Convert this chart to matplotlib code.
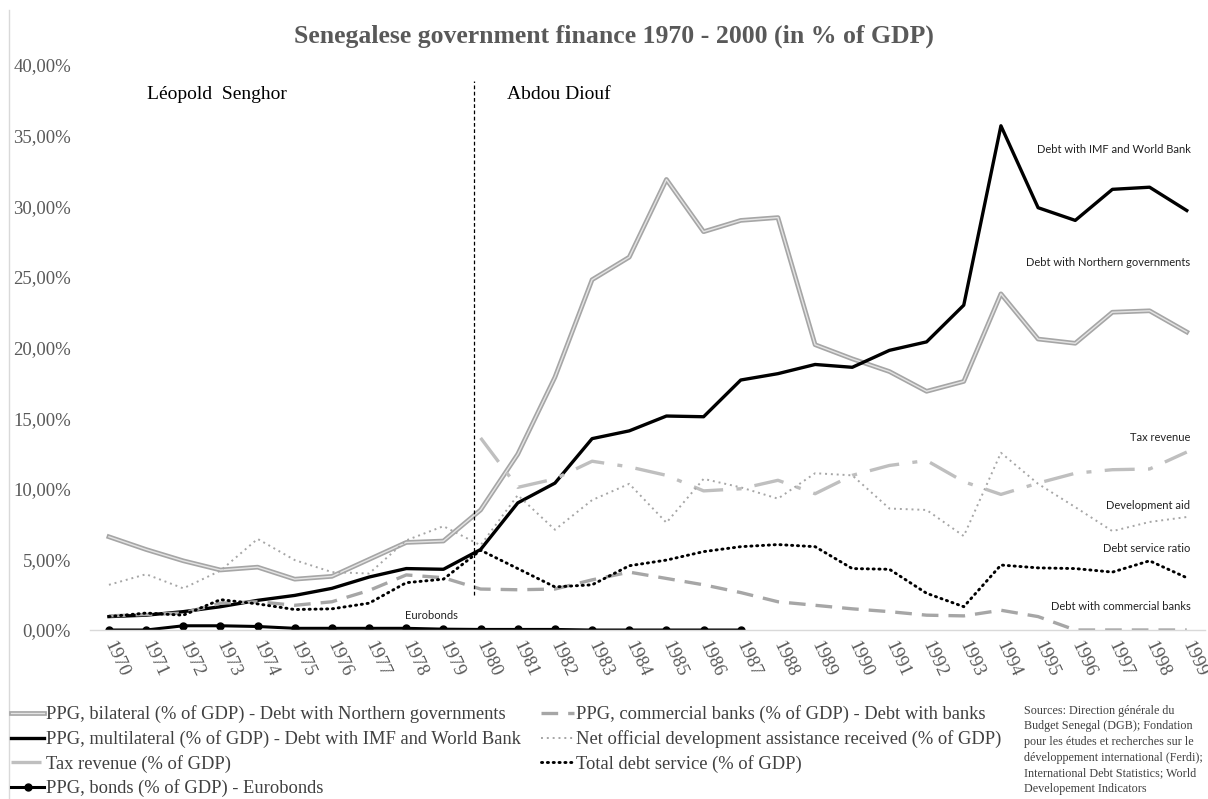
import numpy as np
import matplotlib
matplotlib.use("Agg")
import matplotlib.pyplot as plt
import matplotlib.patheffects as pe

years = list(range(1970, 2000))

# values in % of GDP
bilateral = [6.6, 5.7, 4.9, 4.25, 4.45, 3.6, 3.8, 5.0, 6.2, 6.3,
             8.5, 12.45, 17.9, 24.8, 26.4, 31.9, 28.2, 29.0, 29.2, 20.2,
             19.2, 18.3, 16.9, 17.6, 23.8, 20.6, 20.3, 22.5, 22.6, 21.1]
multilateral = [0.95, 1.05, 1.3, 1.65, 2.1, 2.45, 2.95, 3.75, 4.35, 4.3,
                5.7, 9.0, 10.4, 13.55, 14.1, 15.15, 15.1, 17.7, 18.15, 18.8,
                18.6, 19.8, 20.4, 23.0, 35.7, 29.9, 29.0, 31.2, 31.35, 29.7]
tax_revenue = [np.nan] * 10 + [13.6, 10.1, 10.7, 11.95, 11.55, 10.95, 9.85, 10.0, 10.6, 9.65,
                               10.95, 11.65, 12.0, 10.5, 9.6, 10.4, 11.1, 11.35, 11.4, 12.6]
bonds = [0.0, 0.0, 0.3, 0.3, 0.25, 0.12, 0.12, 0.12, 0.12, 0.06,
         0.04, 0.04, 0.04, 0.0, 0.0, 0.0, 0.0, 0.0] + [np.nan] * 12
commercial = [1.0, 1.1, 1.2, 1.9, 2.0, 1.75, 2.0, 2.8, 3.9, 3.7,
              2.9, 2.85, 2.9, 3.55, 4.1, 3.65, 3.2, 2.65, 2.0, 1.75,
              1.5, 1.3, 1.05, 1.0, 1.4, 0.95, 0.0, 0.0, 0.0, 0.0]
oda = [3.2, 3.95, 2.95, 4.2, 6.45, 4.95, 4.1, 4.0, 6.35, 7.35,
       6.0, 9.55, 7.1, 9.2, 10.35, 7.6, 10.7, 10.1, 9.3, 11.1,
       10.95, 8.6, 8.5, 6.65, 12.55, 10.35, 8.7, 7.0, 7.65, 8.0]
debt_service = [0.95, 1.2, 1.05, 2.15, 1.85, 1.45, 1.5, 1.9, 3.35, 3.6,
                5.65, 4.35, 3.05, 3.2, 4.55, 4.95, 5.55, 5.9, 6.05, 5.9,
                4.35, 4.3, 2.6, 1.65, 4.6, 4.4, 4.35, 4.1, 4.9, 3.7]

series_labels = [
    "PPG, bilateral (% of GDP) - Debt with Northern governments",
    "PPG, multilateral (% of GDP) - Debt with IMF and World Bank",
    "Tax revenue (% of GDP)",
    "PPG, bonds (% of GDP) - Eurobonds",
    "PPG, commercial banks (% of GDP) - Debt with banks",
    "Net official development assistance received (% of GDP)",
    "Total debt service (% of GDP)",
]

end_labels = [
    ("Debt with IMF and World Bank", 34.0),
    ("Debt with Northern governments", 26.0),
    ("Tax revenue", 13.65),
    ("Development aid", 8.8),
    ("Debt service ratio", 5.8),
    ("Debt with commercial banks", 1.7),
]

SERIF = "Liberation Serif"
x = np.arange(len(years))

fig = plt.figure(figsize=(12.08, 7.99), dpi=100)
ax = fig.add_axes([0.0748, 0.2115, 0.923, 0.7071])

h_bil, = ax.plot(x, bilateral, color="#e4e4e4", lw=1.0,
                 path_effects=[pe.Stroke(linewidth=3.4, foreground="#a6a6a6"), pe.Normal()])
h_multi, = ax.plot(x, multilateral, color="black", lw=2.4)
h_tax, = ax.plot(x, tax_revenue, color="#bfbfbf", lw=2.4, dashes=(9, 4, 1.5, 4))
h_bond, = ax.plot(x, bonds, color="black", lw=2.2, marker="o", ms=5)
h_com, = ax.plot(x, commercial, color="#a6a6a6", lw=2.4, dashes=(5, 3))
h_oda, = ax.plot(x, oda, color="#a6a6a6", lw=1.4, ls=(0, (1, 2)))
h_ds, = ax.plot(x, debt_service, color="black", lw=2.1, ls=(0, (0.4, 1.6)),
                dash_capstyle="round")

ax.set_xlim(-0.5, len(years) - 0.5)
ax.set_ylim(0, 40)
ax.set_yticks(np.arange(0, 41, 5))
ax.set_yticklabels([f"{v:.2f}%".replace(".", ",") for v in np.arange(0, 41, 5)],
                   family=SERIF, fontsize=13.5, color="#595959")
ax.set_xticks(x)
ax.set_xticklabels([str(y) for y in years], family=SERIF, fontsize=13.5, color="#595959",
                   rotation=-65, ha="left", va="center", rotation_mode="anchor")
ax.tick_params(axis="both", length=0)
ax.tick_params(axis="x", pad=9)
ax.tick_params(axis="y", pad=14)
for s in ["top", "right", "left"]:
    ax.spines[s].set_visible(False)
ax.spines["bottom"].set_color("#d9d9d9")
ax.spines["bottom"].set_linewidth(1)

# presidency split
ax.plot([9.82, 9.82], [2.5, 38.9], color="black", lw=0.9, ls=(0, (3, 2)))
ax.text(1.02, 37.9, "Léopold  Senghor", family=SERIF, fontsize=14, va="center", ha="left")
ax.text(10.71, 37.9, "Abdou Diouf", family=SERIF, fontsize=14, va="center", ha="left")

for txt, yv in end_labels:
    ax.text(29.1, yv, txt, family="Lato", fontsize=8, color="#222222", ha="right", va="center")
ax.text(7.97, 1.06, "Eurobonds", family="Lato", fontsize=8, color="#222222", ha="left", va="center")

fig.text(0.508, 0.954, "Senegalese government finance 1970 - 2000 (in % of GDP)",
         family=SERIF, fontsize=18.5, fontweight="bold", color="#595959", ha="center", va="center")

leg = fig.legend([h_bil, h_multi, h_tax, h_bond, h_com, h_oda, h_ds], series_labels,
                 loc="upper left", bbox_to_anchor=(0.0095, 0.117), ncol=2, frameon=False,
                 prop={"family": SERIF, "size": 13.3}, handlelength=1.75, handletextpad=0.12,
                 labelspacing=0.36, columnspacing=1.1, borderaxespad=0, borderpad=0)
for t in leg.get_texts():
    t.set_color("#404040")

fig.text(0.848, 0.118,
         "Sources: Direction générale du\nBudget Senegal (DGB); Fondation\n"
         "pour les études et recherches sur le\ndéveloppement international (Ferdi);\n"
         "International Debt Statistics; World\nDevelopement Indicators",
         family=SERIF, fontsize=8.7, color="#404040", ha="left", va="top", linespacing=1.4)

# thin border line at the left edge
fig.add_artist(plt.Line2D([0.0075, 0.0075], [0.0, 0.988], transform=fig.transFigure,
                          color="#d9d9d9", lw=1))

fig.savefig("out.png", dpi=100)
